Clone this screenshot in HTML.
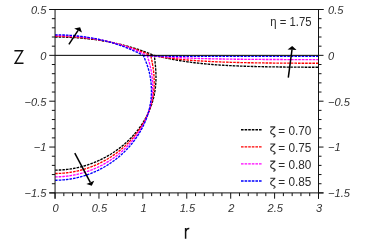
<!DOCTYPE html>
<html><head><meta charset="utf-8">
<style>
html,body{margin:0;padding:0;background:#ffffff;}
body{width:374px;height:251px;overflow:hidden;font-family:"Liberation Sans",sans-serif;}
svg{display:block;will-change:transform}
.txt{filter:grayscale(1)}
text{font-family:"Liberation Sans",sans-serif;fill:#222}
.tk text{font-size:11.1px;font-style:italic;fill:#333}
.lg{font-size:12.5px;fill:#2b2b2b}
.cv,.cvs path{fill:none;stroke-width:1.35;stroke-dasharray:2.6 1.0}
</style></head><body>
<svg width="374" height="251" viewBox="0 0 374 251">
<rect width="374" height="251" fill="#fff"/>
<g class="cvs">
<path d="M55.05,37.00 L56.73,37.00 L58.41,37.02 L60.10,37.04 L61.78,37.07 L63.46,37.11 L65.14,37.16 L66.83,37.22 L68.51,37.29 L70.19,37.37 L71.87,37.46 L73.56,37.56 L75.24,37.66 L76.92,37.78 L78.60,37.90 L80.29,38.04 L81.97,38.18 L83.65,38.34 L85.33,38.50 L87.02,38.68 L88.70,38.86 L90.38,39.06 L92.06,39.26 L93.75,39.48 L95.43,39.70 L97.11,39.94 L98.79,40.19 L100.48,40.45 L102.16,40.71 L103.84,40.99 L105.52,41.29 L107.21,41.59 L108.89,41.90 L110.57,42.23 L112.25,42.57 L113.93,42.92 L115.62,43.28 L117.30,43.66 L118.98,44.05 L120.66,44.45 L122.35,44.86 L124.03,45.29 L125.71,45.73 L127.39,46.18 L129.08,46.65 L130.76,47.13 L132.44,47.63 L134.12,48.14 L135.81,48.67 L137.49,49.21 L139.17,49.76 L140.85,50.33 L142.54,50.92 L144.22,51.53 L145.90,52.15 L147.58,52.78 L149.27,53.44 L150.95,54.11 L152.63,54.79 L154.31,55.50" stroke="#000000"/>
<path d="M55.10,170.12 L55.56,170.12 L56.02,170.12 L56.47,170.11 L56.93,170.10 L57.39,170.10 L57.85,170.08 L58.30,170.07 L58.76,170.06 L59.22,170.04 L59.68,170.02 L60.13,170.00 L60.59,169.97 L61.05,169.95 L61.50,169.92 L61.96,169.89 L62.42,169.86 L62.87,169.83 L63.33,169.79 L63.79,169.75 L64.24,169.72 L64.70,169.67 L65.15,169.63 L65.61,169.58 L66.07,169.54 L66.52,169.49 L66.98,169.44 L67.43,169.38 L67.89,169.33 L68.34,169.27 L68.79,169.21 L69.25,169.15 L69.70,169.08 L70.16,169.02 L70.61,168.95 L71.06,168.88 L71.51,168.81 L71.97,168.74 L72.42,168.66 L72.87,168.58 L73.32,168.50 L73.77,168.42 L74.22,168.34 L74.67,168.25 L75.12,168.17 L75.57,168.08 L76.02,167.99 L76.47,167.89 L76.92,167.80 L77.37,167.70 L77.82,167.60 L78.27,167.50 L78.71,167.40 L79.16,167.29 L79.61,167.18 L80.05,167.07 L80.50,166.96 L80.94,166.85 L81.39,166.73 L81.83,166.62 L82.28,166.50 L82.72,166.38 L83.16,166.26 L83.60,166.13 L84.05,166.00 L84.49,165.88 L84.93,165.74 L85.37,165.61 L85.81,165.48 L86.25,165.34 L86.69,165.20 L87.12,165.06 L87.56,164.92 L88.00,164.78 L88.44,164.63 L88.87,164.48 L89.31,164.33 L89.74,164.18 L90.18,164.03 L90.61,163.87 L91.04,163.72 L91.48,163.56 L91.91,163.40 L92.34,163.23 L92.77,163.07 L93.20,162.90 L93.63,162.73 L94.06,162.56 L94.49,162.39 L94.91,162.22 L95.34,162.04 L95.77,161.86 L96.19,161.68 L96.62,161.50 L97.04,161.32 L97.47,161.13 L97.89,160.95 L98.31,160.76 L98.73,160.57 L99.15,160.37 L99.57,160.18 L99.99,159.98 L100.41,159.78 L100.83,159.58 L101.24,159.38 L101.66,159.18 L102.08,158.97 L102.49,158.77 L102.90,158.56 L103.32,158.35 L103.73,158.13 L104.14,157.92 L104.55,157.70 L104.96,157.48 L105.37,157.26 L105.78,157.04 L106.18,156.82 L106.59,156.59 L107.00,156.36 L107.40,156.13 L107.81,155.90 L108.21,155.67 L108.61,155.44 L109.01,155.20 L109.41,154.96 L109.81,154.72 L110.21,154.48 L110.61,154.24 L111.00,153.99 L111.40,153.74 L111.79,153.49 L112.19,153.24 L112.58,152.99 L112.97,152.74 L113.36,152.48 L113.75,152.22 L114.14,151.96 L114.53,151.70 L114.92,151.44 L115.30,151.17 L115.69,150.90 L116.07,150.64 L116.45,150.37 L116.83,150.09 L117.21,149.82 L117.59,149.54 L117.97,149.27 L118.35,148.99 L118.73,148.71 L119.10,148.42 L119.47,148.14 L119.85,147.85 L120.22,147.56 L120.59,147.27 L120.96,146.98 L121.33,146.69 L121.69,146.39 L122.06,146.10 L122.42,145.80 L122.79,145.50 L123.15,145.20 L123.51,144.89 L123.87,144.59 L124.23,144.28 L124.58,143.97 L124.94,143.66 L125.29,143.35 L125.65,143.03 L126.00,142.72 L126.35,142.40 L126.70,142.08 L127.05,141.76 L127.39,141.43 L127.74,141.11 L128.08,140.78 L128.42,140.45 L128.76,140.12 L129.10,139.79 L129.44,139.46 L129.78,139.12 L130.11,138.79 L130.45,138.45 L130.78,138.11 L131.11,137.77 L131.44,137.42 L131.77,137.08 L132.09,136.73 L132.42,136.38 L132.74,136.03 L133.06,135.68 L133.38,135.33 L133.70,134.97 L134.01,134.61 L134.33,134.25 L134.64,133.89 L134.95,133.53 L135.26,133.17 L135.57,132.80 L135.88,132.43 L136.18,132.07 L136.48,131.69 L136.79,131.32 L137.08,130.95 L137.38,130.57 L137.68,130.20 L137.97,129.82 L138.26,129.44 L138.55,129.06 L138.84,128.67 L139.13,128.29 L139.41,127.90 L139.70,127.51 L139.98,127.12 L140.25,126.73 L140.53,126.34 L140.81,125.94 L141.08,125.55 L141.35,125.15 L141.62,124.75 L141.88,124.35 L142.15,123.95 L142.41,123.54 L142.67,123.14 L142.93,122.73 L143.19,122.32 L143.44,121.91 L143.69,121.50 L143.94,121.09 L144.19,120.67 L144.43,120.26 L144.68,119.84 L144.92,119.42 L145.16,119.00 L145.39,118.58 L145.63,118.16 L145.86,117.73 L146.09,117.31 L146.31,116.88 L146.54,116.45 L146.76,116.02 L146.98,115.59 L147.20,115.16 L147.41,114.72 L147.63,114.29 L147.84,113.85 L148.04,113.41 L148.25,112.98 L148.45,112.54 L148.65,112.09 L148.85,111.65 L149.04,111.21 L149.24,110.76 L149.43,110.32 L149.61,109.87 L149.80,109.42 L149.98,108.97 L150.16,108.52 L150.34,108.07 L150.51,107.62 L150.68,107.16 L150.85,106.71 L151.02,106.25 L151.18,105.79 L151.35,105.33 L151.50,104.88 L151.66,104.42 L151.81,103.95 L151.96,103.49 L152.11,103.03 L152.26,102.56 L152.40,102.10 L152.54,101.63 L152.67,101.17 L152.81,100.70 L152.94,100.23 L153.07,99.76 L153.19,99.29 L153.32,98.82 L153.44,98.35 L153.55,97.88 L153.67,97.41 L153.78,96.93 L153.89,96.46 L153.99,95.98 L154.10,95.51 L154.20,95.03 L154.29,94.56 L154.39,94.08 L154.48,93.60 L154.57,93.12 L154.66,92.64 L154.74,92.16 L154.82,91.69 L154.90,91.20 L154.97,90.72 L155.04,90.24 L155.11,89.76 L155.18,89.28 L155.24,88.80 L155.30,88.31 L155.36,87.83 L155.42,87.35 L155.47,86.87 L155.52,86.38 L155.57,85.90 L155.61,85.41 L155.66,84.93 L155.69,84.44 L155.73,83.96 L155.77,83.47 L155.80,82.99 L155.83,82.50 L155.85,82.02 L155.88,81.53 L155.90,81.05 L155.92,80.56 L155.93,80.08 L155.95,79.59 L155.96,79.11 L155.97,78.62 L155.97,78.13 L155.98,77.65 L155.98,77.16 L155.98,76.68 L155.97,76.19 L155.97,75.71 L155.96,75.22 L155.95,74.74 L155.94,74.25 L155.93,73.77 L155.91,73.28 L155.89,72.80 L155.87,72.31 L155.85,71.83 L155.83,71.34 L155.80,70.86 L155.77,70.37 L155.74,69.89 L155.71,69.40 L155.68,68.92 L155.65,68.44 L155.61,67.95 L155.57,67.47 L155.53,66.99 L155.49,66.50 L155.45,66.02 L155.41,65.54 L155.36,65.06 L155.32,64.57 L155.27,64.09 L155.22,63.61 L155.18,63.13 L155.13,62.64 L155.08,62.16 L155.02,61.68 L154.97,61.20 L154.92,60.71 L154.87,60.23 L154.81,59.75 L154.76,59.27 L154.70,58.78 L154.65,58.30 L154.59,57.82 L154.54,57.33 L154.48,56.85 L154.42,56.36 L154.37,55.88 L154.31,55.39" stroke="#000000"/>
<path d="M154.31,55.50 L155.69,55.75 L157.07,56.04 L158.45,56.34 L159.83,56.65 L161.21,56.95 L162.59,57.26 L163.97,57.56 L165.35,57.85 L166.73,58.15 L168.11,58.43 L169.49,58.71 L170.87,58.99 L172.25,59.26 L173.63,59.52 L175.01,59.78 L176.39,60.03 L177.77,60.27 L179.15,60.51 L180.53,60.74 L181.91,60.97 L183.29,61.18 L184.67,61.40 L186.05,61.60 L187.43,61.80 L188.81,62.00 L190.19,62.18 L191.57,62.37 L192.95,62.54 L194.33,62.72 L195.70,62.88 L197.08,63.04 L198.46,63.20 L199.84,63.35 L201.22,63.49 L202.60,63.63 L203.98,63.77 L205.36,63.90 L206.74,64.03 L208.12,64.15 L209.50,64.27 L210.88,64.39 L212.26,64.50 L213.64,64.61 L215.02,64.71 L216.40,64.81 L217.78,64.91 L219.16,65.00 L220.54,65.09 L221.92,65.18 L223.30,65.26 L224.68,65.34 L226.06,65.42 L227.44,65.49 L228.82,65.57 L230.20,65.64 L231.58,65.70 L232.96,65.77 L234.34,65.83 L235.72,65.89 L237.10,65.95 L238.48,66.01 L239.86,66.06 L241.24,66.11 L242.62,66.16 L244.00,66.21 L245.37,66.26 L246.75,66.30 L248.13,66.34 L249.51,66.38 L250.89,66.42 L252.27,66.46 L253.65,66.50 L255.03,66.53 L256.41,66.57 L257.79,66.60 L259.17,66.63 L260.55,66.66 L261.93,66.69 L263.31,66.72 L264.69,66.75 L266.07,66.77 L267.45,66.80 L268.83,66.82 L270.21,66.85 L271.59,66.87 L272.97,66.89 L274.35,66.91 L275.73,66.93 L277.11,66.95 L278.49,66.97 L279.87,66.98 L281.25,67.00 L282.63,67.02 L284.01,67.03 L285.39,67.05 L286.77,67.06 L288.15,67.08 L289.53,67.09 L290.91,67.10 L292.29,67.11 L293.67,67.13 L295.04,67.14 L296.42,67.15 L297.80,67.16 L299.18,67.17 L300.56,67.18 L301.94,67.19 L303.32,67.20 L304.70,67.20 L306.08,67.21 L307.46,67.22 L308.84,67.23 L310.22,67.23 L311.60,67.24 L312.98,67.25 L314.36,67.25 L315.74,67.26 L317.12,67.27 L318.50,67.27" stroke="#000000"/>
<path d="M55.05,36.30 L56.67,36.30 L58.29,36.32 L59.92,36.34 L61.54,36.38 L63.16,36.42 L64.78,36.47 L66.40,36.53 L68.02,36.60 L69.65,36.69 L71.27,36.78 L72.89,36.88 L74.51,36.99 L76.13,37.11 L77.75,37.24 L79.38,37.38 L81.00,37.53 L82.62,37.69 L84.24,37.86 L85.86,38.04 L87.48,38.23 L89.11,38.44 L90.73,38.65 L92.35,38.87 L93.97,39.11 L95.59,39.35 L97.21,39.61 L98.84,39.88 L100.46,40.16 L102.08,40.45 L103.70,40.75 L105.32,41.06 L106.95,41.39 L108.57,41.73 L110.19,42.08 L111.81,42.44 L113.43,42.82 L115.05,43.21 L116.68,43.61 L118.30,44.03 L119.92,44.46 L121.54,44.90 L123.16,45.36 L124.78,45.83 L126.41,46.31 L128.03,46.82 L129.65,47.33 L131.27,47.86 L132.89,48.41 L134.51,48.97 L136.14,49.55 L137.76,50.14 L139.38,50.75 L141.00,51.37 L142.62,52.02 L144.25,52.68 L145.87,53.36 L147.49,54.05 L149.11,54.77 L150.73,55.50" stroke="#ff0000"/>
<path d="M55.10,173.49 L55.57,173.49 L56.05,173.48 L56.52,173.48 L57.00,173.47 L57.47,173.46 L57.94,173.45 L58.42,173.43 L58.89,173.42 L59.36,173.40 L59.84,173.38 L60.31,173.35 L60.78,173.33 L61.26,173.30 L61.73,173.27 L62.20,173.24 L62.68,173.20 L63.15,173.17 L63.62,173.13 L64.09,173.08 L64.56,173.04 L65.04,173.00 L65.51,172.95 L65.98,172.90 L66.45,172.85 L66.92,172.79 L67.39,172.73 L67.86,172.68 L68.33,172.61 L68.80,172.55 L69.27,172.49 L69.74,172.42 L70.21,172.35 L70.68,172.28 L71.15,172.20 L71.61,172.13 L72.08,172.05 L72.55,171.97 L73.01,171.88 L73.48,171.80 L73.95,171.71 L74.41,171.62 L74.88,171.53 L75.34,171.44 L75.81,171.34 L76.27,171.24 L76.73,171.14 L77.20,171.04 L77.66,170.93 L78.12,170.83 L78.58,170.72 L79.04,170.61 L79.50,170.49 L79.96,170.38 L80.42,170.26 L80.88,170.14 L81.34,170.02 L81.80,169.90 L82.26,169.77 L82.71,169.64 L83.17,169.51 L83.63,169.38 L84.08,169.25 L84.53,169.11 L84.99,168.97 L85.44,168.83 L85.89,168.69 L86.35,168.54 L86.80,168.39 L87.25,168.25 L87.70,168.09 L88.15,167.94 L88.60,167.79 L89.04,167.63 L89.49,167.47 L89.94,167.31 L90.38,167.15 L90.83,166.98 L91.27,166.81 L91.72,166.64 L92.16,166.47 L92.60,166.30 L93.04,166.12 L93.48,165.94 L93.92,165.76 L94.36,165.58 L94.80,165.40 L95.24,165.21 L95.67,165.03 L96.11,164.84 L96.54,164.64 L96.98,164.45 L97.41,164.26 L97.84,164.06 L98.28,163.86 L98.71,163.66 L99.14,163.45 L99.56,163.25 L99.99,163.04 L100.42,162.83 L100.85,162.62 L101.27,162.41 L101.70,162.19 L102.12,161.97 L102.54,161.76 L102.96,161.53 L103.38,161.31 L103.80,161.09 L104.22,160.86 L104.64,160.63 L105.06,160.40 L105.47,160.17 L105.89,159.93 L106.30,159.70 L106.71,159.46 L107.12,159.22 L107.53,158.98 L107.94,158.73 L108.35,158.49 L108.76,158.24 L109.17,157.99 L109.57,157.74 L109.97,157.49 L110.38,157.23 L110.78,156.97 L111.18,156.72 L111.58,156.45 L111.98,156.19 L112.38,155.93 L112.77,155.66 L113.17,155.39 L113.56,155.12 L113.95,154.85 L114.34,154.58 L114.73,154.30 L115.12,154.03 L115.51,153.75 L115.90,153.47 L116.28,153.18 L116.67,152.90 L117.05,152.61 L117.43,152.33 L117.81,152.04 L118.19,151.74 L118.57,151.45 L118.95,151.16 L119.32,150.86 L119.70,150.56 L120.07,150.26 L120.44,149.96 L120.81,149.65 L121.18,149.35 L121.54,149.04 L121.91,148.73 L122.28,148.42 L122.64,148.11 L123.00,147.79 L123.36,147.48 L123.72,147.16 L124.08,146.84 L124.43,146.52 L124.79,146.20 L125.14,145.87 L125.49,145.55 L125.84,145.22 L126.19,144.89 L126.54,144.56 L126.88,144.22 L127.23,143.89 L127.57,143.55 L127.91,143.21 L128.25,142.87 L128.59,142.53 L128.92,142.19 L129.26,141.84 L129.59,141.50 L129.92,141.15 L130.25,140.80 L130.58,140.44 L130.91,140.09 L131.23,139.74 L131.55,139.38 L131.87,139.02 L132.19,138.66 L132.51,138.30 L132.83,137.94 L133.14,137.57 L133.45,137.21 L133.76,136.84 L134.07,136.47 L134.38,136.10 L134.69,135.72 L134.99,135.35 L135.29,134.97 L135.59,134.60 L135.89,134.22 L136.18,133.84 L136.48,133.45 L136.77,133.07 L137.06,132.68 L137.35,132.30 L137.64,131.91 L137.92,131.52 L138.20,131.13 L138.48,130.73 L138.76,130.34 L139.04,129.94 L139.31,129.55 L139.58,129.15 L139.85,128.75 L140.12,128.34 L140.39,127.94 L140.65,127.54 L140.91,127.13 L141.17,126.72 L141.43,126.31 L141.68,125.90 L141.94,125.49 L142.19,125.08 L142.44,124.66 L142.68,124.25 L142.93,123.83 L143.17,123.41 L143.41,122.99 L143.65,122.57 L143.88,122.15 L144.11,121.72 L144.34,121.30 L144.57,120.87 L144.80,120.44 L145.02,120.01 L145.24,119.58 L145.46,119.15 L145.67,118.72 L145.89,118.28 L146.10,117.85 L146.31,117.41 L146.51,116.97 L146.72,116.53 L146.92,116.09 L147.12,115.65 L147.31,115.21 L147.51,114.76 L147.70,114.32 L147.88,113.87 L148.07,113.43 L148.25,112.98 L148.43,112.53 L148.61,112.08 L148.79,111.63 L148.96,111.18 L149.13,110.72 L149.30,110.27 L149.46,109.81 L149.62,109.36 L149.78,108.90 L149.94,108.44 L150.09,107.98 L150.24,107.52 L150.39,107.06 L150.54,106.60 L150.68,106.14 L150.82,105.68 L150.95,105.21 L151.09,104.75 L151.22,104.28 L151.35,103.82 L151.47,103.35 L151.60,102.88 L151.72,102.41 L151.84,101.94 L151.95,101.47 L152.06,101.00 L152.17,100.53 L152.28,100.06 L152.38,99.59 L152.48,99.12 L152.58,98.64 L152.67,98.17 L152.76,97.70 L152.85,97.22 L152.94,96.75 L153.02,96.27 L153.10,95.79 L153.18,95.32 L153.25,94.84 L153.32,94.36 L153.39,93.89 L153.46,93.41 L153.52,92.93 L153.58,92.45 L153.64,91.98 L153.69,91.50 L153.74,91.02 L153.79,90.54 L153.84,90.06 L153.88,89.58 L153.92,89.10 L153.96,88.62 L153.99,88.14 L154.03,87.66 L154.06,87.18 L154.08,86.70 L154.11,86.22 L154.13,85.74 L154.14,85.26 L154.16,84.78 L154.17,84.30 L154.18,83.82 L154.19,83.34 L154.20,82.86 L154.20,82.38 L154.20,81.90 L154.20,81.42 L154.19,80.95 L154.18,80.47 L154.17,79.99 L154.16,79.51 L154.14,79.03 L154.13,78.55 L154.11,78.08 L154.08,77.60 L154.06,77.12 L154.03,76.64 L154.00,76.17 L153.97,75.69 L153.94,75.22 L153.90,74.74 L153.87,74.27 L153.83,73.79 L153.78,73.32 L153.74,72.84 L153.69,72.37 L153.64,71.90 L153.59,71.42 L153.53,70.95 L153.47,70.48 L153.41,70.01 L153.35,69.54 L153.29,69.07 L153.22,68.60 L153.16,68.13 L153.09,67.66 L153.02,67.19 L152.94,66.72 L152.87,66.25 L152.79,65.79 L152.71,65.32 L152.63,64.85 L152.55,64.39 L152.47,63.92 L152.39,63.46 L152.30,62.99 L152.22,62.53 L152.13,62.06 L152.04,61.60 L151.95,61.14 L151.86,60.68 L151.77,60.21 L151.68,59.75 L151.58,59.29 L151.49,58.83 L151.40,58.37 L151.30,57.91 L151.21,57.45 L151.11,56.99 L151.02,56.53 L150.92,56.06 L150.83,55.60 L150.73,55.14" stroke="#ff0000"/>
<path d="M150.73,55.50 L152.14,55.67 L153.55,55.87 L154.96,56.07 L156.37,56.27 L157.78,56.48 L159.19,56.68 L160.60,56.89 L162.01,57.09 L163.42,57.28 L164.83,57.48 L166.24,57.66 L167.65,57.85 L169.06,58.03 L170.47,58.20 L171.88,58.38 L173.29,58.54 L174.70,58.71 L176.11,58.87 L177.52,59.02 L178.93,59.17 L180.34,59.31 L181.75,59.46 L183.16,59.59 L184.57,59.72 L185.98,59.85 L187.39,59.98 L188.80,60.10 L190.21,60.22 L191.62,60.33 L193.03,60.44 L194.44,60.54 L195.85,60.65 L197.26,60.75 L198.67,60.84 L200.08,60.94 L201.49,61.02 L202.90,61.11 L204.30,61.19 L205.71,61.28 L207.12,61.35 L208.53,61.43 L209.94,61.50 L211.35,61.57 L212.76,61.64 L214.17,61.70 L215.58,61.77 L216.99,61.83 L218.40,61.89 L219.81,61.94 L221.22,62.00 L222.63,62.05 L224.04,62.10 L225.45,62.15 L226.86,62.19 L228.27,62.24 L229.68,62.28 L231.09,62.32 L232.50,62.37 L233.91,62.40 L235.32,62.44 L236.73,62.48 L238.14,62.51 L239.55,62.54 L240.96,62.58 L242.37,62.61 L243.78,62.64 L245.19,62.67 L246.60,62.69 L248.01,62.72 L249.42,62.74 L250.83,62.77 L252.24,62.79 L253.65,62.81 L255.06,62.84 L256.47,62.86 L257.88,62.88 L259.29,62.90 L260.70,62.91 L262.11,62.93 L263.52,62.95 L264.93,62.97 L266.34,62.98 L267.75,63.00 L269.16,63.01 L270.57,63.03 L271.98,63.04 L273.39,63.05 L274.80,63.06 L276.21,63.08 L277.62,63.09 L279.03,63.10 L280.43,63.11 L281.84,63.12 L283.25,63.13 L284.66,63.14 L286.07,63.15 L287.48,63.15 L288.89,63.16 L290.30,63.17 L291.71,63.18 L293.12,63.19 L294.53,63.19 L295.94,63.20 L297.35,63.21 L298.76,63.21 L300.17,63.22 L301.58,63.22 L302.99,63.23 L304.40,63.23 L305.81,63.24 L307.22,63.24 L308.63,63.25 L310.04,63.25 L311.45,63.26 L312.86,63.26 L314.27,63.26 L315.68,63.27 L317.09,63.27 L318.50,63.27" stroke="#ff0000"/>
<path d="M55.05,35.50 L56.61,35.50 L58.17,35.52 L59.73,35.54 L61.29,35.58 L62.85,35.62 L64.41,35.68 L65.97,35.74 L67.53,35.82 L69.10,35.90 L70.66,36.00 L72.22,36.10 L73.78,36.22 L75.34,36.34 L76.90,36.48 L78.46,36.62 L80.02,36.78 L81.58,36.95 L83.14,37.13 L84.70,37.31 L86.26,37.51 L87.82,37.72 L89.38,37.95 L90.94,38.18 L92.50,38.42 L94.06,38.68 L95.63,38.95 L97.19,39.22 L98.75,39.52 L100.31,39.82 L101.87,40.13 L103.43,40.46 L104.99,40.80 L106.55,41.15 L108.11,41.52 L109.67,41.90 L111.23,42.29 L112.79,42.70 L114.35,43.12 L115.91,43.55 L117.47,44.00 L119.03,44.46 L120.60,44.94 L122.16,45.43 L123.72,45.93 L125.28,46.45 L126.84,46.99 L128.40,47.54 L129.96,48.11 L131.52,48.70 L133.08,49.30 L134.64,49.92 L136.20,50.55 L137.76,51.20 L139.32,51.87 L140.88,52.56 L142.44,53.27 L144.00,53.99 L145.56,54.74 L147.13,55.50" stroke="#ff00ff"/>
<path d="M55.10,176.85 L55.59,176.85 L56.08,176.85 L56.57,176.84 L57.06,176.83 L57.55,176.82 L58.04,176.81 L58.53,176.79 L59.02,176.78 L59.51,176.76 L60.00,176.73 L60.49,176.71 L60.98,176.68 L61.47,176.65 L61.96,176.62 L62.44,176.58 L62.93,176.54 L63.42,176.50 L63.91,176.46 L64.40,176.42 L64.89,176.37 L65.37,176.32 L65.86,176.27 L66.35,176.21 L66.83,176.15 L67.32,176.09 L67.81,176.03 L68.29,175.97 L68.78,175.90 L69.26,175.83 L69.75,175.76 L70.23,175.69 L70.72,175.61 L71.20,175.53 L71.68,175.45 L72.16,175.37 L72.65,175.28 L73.13,175.20 L73.61,175.11 L74.09,175.01 L74.57,174.92 L75.05,174.82 L75.53,174.72 L76.01,174.62 L76.49,174.51 L76.97,174.41 L77.44,174.30 L77.92,174.19 L78.40,174.07 L78.87,173.96 L79.35,173.84 L79.82,173.72 L80.30,173.59 L80.77,173.47 L81.24,173.34 L81.71,173.21 L82.19,173.08 L82.66,172.94 L83.13,172.81 L83.60,172.67 L84.06,172.52 L84.53,172.38 L85.00,172.24 L85.47,172.09 L85.93,171.94 L86.40,171.78 L86.86,171.63 L87.32,171.47 L87.79,171.31 L88.25,171.15 L88.71,170.99 L89.17,170.82 L89.63,170.65 L90.09,170.48 L90.55,170.31 L91.00,170.13 L91.46,169.96 L91.91,169.78 L92.37,169.59 L92.82,169.41 L93.28,169.23 L93.73,169.04 L94.18,168.85 L94.63,168.65 L95.08,168.46 L95.52,168.26 L95.97,168.06 L96.42,167.86 L96.86,167.66 L97.31,167.46 L97.75,167.25 L98.19,167.04 L98.63,166.83 L99.07,166.61 L99.51,166.40 L99.95,166.18 L100.38,165.96 L100.82,165.74 L101.25,165.51 L101.69,165.29 L102.12,165.06 L102.55,164.83 L102.98,164.60 L103.41,164.36 L103.84,164.13 L104.27,163.89 L104.69,163.65 L105.12,163.41 L105.54,163.16 L105.96,162.92 L106.38,162.67 L106.80,162.42 L107.22,162.17 L107.64,161.91 L108.05,161.66 L108.47,161.40 L108.88,161.14 L109.30,160.88 L109.71,160.61 L110.12,160.35 L110.52,160.08 L110.93,159.81 L111.34,159.54 L111.74,159.26 L112.15,158.99 L112.55,158.71 L112.95,158.43 L113.35,158.15 L113.75,157.87 L114.14,157.58 L114.54,157.29 L114.93,157.01 L115.33,156.71 L115.72,156.42 L116.11,156.13 L116.49,155.83 L116.88,155.53 L117.27,155.23 L117.65,154.93 L118.03,154.63 L118.42,154.32 L118.79,154.02 L119.17,153.71 L119.55,153.40 L119.92,153.08 L120.30,152.77 L120.67,152.45 L121.04,152.14 L121.41,151.82 L121.78,151.49 L122.14,151.17 L122.51,150.85 L122.87,150.52 L123.23,150.19 L123.59,149.86 L123.95,149.53 L124.31,149.20 L124.66,148.86 L125.01,148.52 L125.37,148.18 L125.72,147.84 L126.06,147.50 L126.41,147.16 L126.76,146.81 L127.10,146.46 L127.44,146.12 L127.78,145.77 L128.12,145.41 L128.45,145.06 L128.79,144.70 L129.12,144.35 L129.45,143.99 L129.78,143.63 L130.11,143.26 L130.43,142.90 L130.76,142.54 L131.08,142.17 L131.40,141.80 L131.72,141.43 L132.03,141.06 L132.35,140.69 L132.66,140.31 L132.97,139.93 L133.28,139.56 L133.58,139.18 L133.89,138.80 L134.19,138.41 L134.49,138.03 L134.79,137.64 L135.09,137.26 L135.38,136.87 L135.67,136.48 L135.96,136.09 L136.25,135.69 L136.54,135.30 L136.82,134.90 L137.11,134.50 L137.39,134.10 L137.66,133.70 L137.94,133.30 L138.21,132.90 L138.48,132.49 L138.75,132.09 L139.02,131.68 L139.29,131.27 L139.55,130.86 L139.81,130.45 L140.07,130.04 L140.32,129.62 L140.58,129.21 L140.83,128.79 L141.08,128.37 L141.33,127.95 L141.57,127.53 L141.81,127.11 L142.05,126.68 L142.29,126.26 L142.53,125.83 L142.76,125.41 L142.99,124.98 L143.22,124.55 L143.44,124.12 L143.67,123.68 L143.89,123.25 L144.11,122.82 L144.32,122.38 L144.53,121.94 L144.75,121.50 L144.95,121.07 L145.16,120.62 L145.36,120.18 L145.56,119.74 L145.76,119.30 L145.96,118.85 L146.15,118.41 L146.34,117.96 L146.53,117.51 L146.71,117.06 L146.90,116.61 L147.08,116.16 L147.25,115.71 L147.43,115.26 L147.60,114.80 L147.77,114.35 L147.93,113.89 L148.10,113.44 L148.26,112.98 L148.42,112.52 L148.57,112.06 L148.72,111.60 L148.87,111.14 L149.02,110.68 L149.16,110.22 L149.31,109.76 L149.44,109.29 L149.58,108.83 L149.71,108.36 L149.84,107.90 L149.97,107.43 L150.09,106.96 L150.22,106.50 L150.34,106.03 L150.45,105.56 L150.56,105.09 L150.67,104.62 L150.78,104.15 L150.88,103.68 L150.99,103.20 L151.08,102.73 L151.18,102.26 L151.27,101.79 L151.36,101.31 L151.45,100.84 L151.53,100.36 L151.61,99.89 L151.69,99.42 L151.77,98.94 L151.84,98.46 L151.91,97.99 L151.97,97.51 L152.04,97.04 L152.10,96.56 L152.15,96.08 L152.21,95.61 L152.26,95.13 L152.31,94.65 L152.35,94.17 L152.40,93.70 L152.44,93.22 L152.47,92.74 L152.51,92.26 L152.54,91.79 L152.57,91.31 L152.59,90.83 L152.61,90.35 L152.63,89.88 L152.65,89.40 L152.66,88.92 L152.68,88.44 L152.68,87.97 L152.69,87.49 L152.69,87.01 L152.69,86.54 L152.69,86.06 L152.68,85.58 L152.68,85.11 L152.66,84.63 L152.65,84.16 L152.63,83.68 L152.62,83.21 L152.59,82.74 L152.57,82.26 L152.54,81.79 L152.51,81.32 L152.48,80.84 L152.45,80.37 L152.41,79.90 L152.37,79.43 L152.33,78.96 L152.29,78.49 L152.24,78.02 L152.19,77.55 L152.14,77.08 L152.09,76.61 L152.03,76.14 L151.98,75.68 L151.92,75.21 L151.86,74.75 L151.79,74.28 L151.72,73.82 L151.65,73.35 L151.58,72.89 L151.51,72.43 L151.43,71.97 L151.34,71.50 L151.26,71.04 L151.17,70.58 L151.08,70.13 L150.99,69.67 L150.90,69.21 L150.80,68.75 L150.70,68.30 L150.60,67.84 L150.50,67.39 L150.39,66.94 L150.29,66.48 L150.18,66.03 L150.06,65.58 L149.95,65.13 L149.84,64.68 L149.72,64.23 L149.60,63.79 L149.48,63.34 L149.36,62.89 L149.23,62.45 L149.11,62.01 L148.98,61.56 L148.86,61.12 L148.73,60.68 L148.60,60.24 L148.47,59.80 L148.34,59.36 L148.20,58.92 L148.07,58.48 L147.94,58.04 L147.80,57.61 L147.67,57.17 L147.53,56.73 L147.40,56.30 L147.26,55.87 L147.13,55.43" stroke="#ff00ff"/>
<path d="M147.13,55.50 L148.57,55.59 L150.01,55.70 L151.45,55.81 L152.89,55.92 L154.33,56.03 L155.77,56.14 L157.21,56.25 L158.65,56.36 L160.09,56.46 L161.53,56.57 L162.97,56.67 L164.41,56.77 L165.85,56.86 L167.29,56.96 L168.73,57.05 L170.17,57.14 L171.61,57.23 L173.05,57.31 L174.49,57.39 L175.93,57.47 L177.37,57.55 L178.81,57.63 L180.25,57.70 L181.69,57.77 L183.13,57.84 L184.57,57.90 L186.01,57.97 L187.45,58.03 L188.89,58.09 L190.33,58.15 L191.77,58.20 L193.21,58.26 L194.65,58.31 L196.09,58.36 L197.53,58.41 L198.97,58.46 L200.41,58.50 L201.85,58.55 L203.29,58.59 L204.73,58.63 L206.17,58.67 L207.61,58.71 L209.05,58.74 L210.49,58.78 L211.93,58.81 L213.37,58.84 L214.81,58.88 L216.25,58.91 L217.69,58.94 L219.13,58.96 L220.57,58.99 L222.01,59.02 L223.45,59.04 L224.89,59.07 L226.33,59.09 L227.77,59.11 L229.21,59.13 L230.65,59.15 L232.09,59.17 L233.53,59.19 L234.97,59.21 L236.41,59.23 L237.85,59.25 L239.29,59.26 L240.73,59.28 L242.17,59.29 L243.61,59.31 L245.05,59.32 L246.49,59.34 L247.93,59.35 L249.37,59.36 L250.81,59.37 L252.25,59.38 L253.69,59.40 L255.13,59.41 L256.57,59.42 L258.01,59.43 L259.45,59.44 L260.90,59.44 L262.34,59.45 L263.78,59.46 L265.22,59.47 L266.66,59.48 L268.10,59.48 L269.54,59.49 L270.98,59.50 L272.42,59.50 L273.86,59.51 L275.30,59.52 L276.74,59.52 L278.18,59.53 L279.62,59.53 L281.06,59.54 L282.50,59.54 L283.94,59.55 L285.38,59.55 L286.82,59.56 L288.26,59.56 L289.70,59.56 L291.14,59.57 L292.58,59.57 L294.02,59.57 L295.46,59.58 L296.90,59.58 L298.34,59.58 L299.78,59.59 L301.22,59.59 L302.66,59.59 L304.10,59.59 L305.54,59.60 L306.98,59.60 L308.42,59.60 L309.86,59.60 L311.30,59.61 L312.74,59.61 L314.18,59.61 L315.62,59.61 L317.06,59.61 L318.50,59.61" stroke="#ff00ff"/>
<path d="M55.05,34.80 L56.55,34.81 L58.04,34.82 L59.54,34.85 L61.03,34.88 L62.53,34.93 L64.02,34.98 L65.52,35.05 L67.01,35.13 L68.51,35.22 L70.00,35.31 L71.50,35.42 L72.99,35.54 L74.49,35.67 L75.98,35.81 L77.48,35.96 L78.97,36.12 L80.47,36.30 L81.96,36.48 L83.46,36.68 L84.95,36.88 L86.45,37.10 L87.94,37.33 L89.44,37.57 L90.93,37.83 L92.43,38.09 L93.92,38.37 L95.42,38.66 L96.91,38.96 L98.41,39.27 L99.90,39.60 L101.40,39.94 L102.89,40.29 L104.39,40.65 L105.88,41.03 L107.38,41.42 L108.87,41.83 L110.37,42.25 L111.86,42.68 L113.36,43.13 L114.85,43.59 L116.35,44.07 L117.84,44.57 L119.34,45.07 L120.83,45.60 L122.33,46.14 L123.82,46.69 L125.32,47.26 L126.81,47.85 L128.31,48.46 L129.80,49.08 L131.30,49.72 L132.79,50.38 L134.29,51.05 L135.78,51.75 L137.28,52.46 L138.78,53.19 L140.27,53.94 L141.77,54.71 L143.26,55.50" stroke="#0000ff"/>
<path d="M55.10,180.22 L55.61,180.22 L56.11,180.22 L56.62,180.21 L57.12,180.20 L57.63,180.19 L58.14,180.17 L58.64,180.16 L59.15,180.14 L59.65,180.11 L60.16,180.09 L60.67,180.06 L61.17,180.03 L61.68,180.00 L62.18,179.96 L62.69,179.92 L63.19,179.88 L63.69,179.84 L64.20,179.79 L64.70,179.75 L65.21,179.69 L65.71,179.64 L66.21,179.58 L66.72,179.52 L67.22,179.46 L67.72,179.40 L68.22,179.33 L68.72,179.26 L69.22,179.19 L69.72,179.12 L70.22,179.04 L70.72,178.96 L71.22,178.88 L71.72,178.79 L72.22,178.70 L72.72,178.61 L73.21,178.52 L73.71,178.43 L74.21,178.33 L74.70,178.23 L75.20,178.12 L75.69,178.02 L76.19,177.91 L76.68,177.80 L77.17,177.69 L77.66,177.57 L78.15,177.45 L78.65,177.33 L79.14,177.21 L79.62,177.08 L80.11,176.96 L80.60,176.82 L81.09,176.69 L81.58,176.56 L82.06,176.42 L82.55,176.28 L83.03,176.13 L83.51,175.99 L84.00,175.84 L84.48,175.69 L84.96,175.54 L85.44,175.38 L85.92,175.23 L86.40,175.07 L86.88,174.90 L87.35,174.74 L87.83,174.57 L88.30,174.40 L88.78,174.23 L89.25,174.05 L89.72,173.88 L90.19,173.70 L90.66,173.52 L91.13,173.33 L91.60,173.15 L92.07,172.96 L92.54,172.77 L93.00,172.57 L93.47,172.38 L93.93,172.18 L94.39,171.98 L94.85,171.78 L95.31,171.57 L95.77,171.36 L96.23,171.16 L96.69,170.94 L97.14,170.73 L97.60,170.51 L98.05,170.30 L98.50,170.07 L98.95,169.85 L99.40,169.63 L99.85,169.40 L100.30,169.17 L100.74,168.94 L101.19,168.70 L101.63,168.47 L102.07,168.23 L102.52,167.99 L102.96,167.75 L103.39,167.50 L103.83,167.25 L104.27,167.01 L104.70,166.75 L105.14,166.50 L105.57,166.25 L106.00,165.99 L106.43,165.73 L106.86,165.47 L107.28,165.20 L107.71,164.94 L108.13,164.67 L108.56,164.40 L108.98,164.13 L109.40,163.85 L109.81,163.58 L110.23,163.30 L110.65,163.02 L111.06,162.74 L111.47,162.45 L111.88,162.17 L112.29,161.88 L112.70,161.59 L113.11,161.29 L113.51,161.00 L113.92,160.70 L114.32,160.41 L114.72,160.11 L115.12,159.80 L115.52,159.50 L115.91,159.19 L116.31,158.89 L116.70,158.58 L117.09,158.27 L117.48,157.95 L117.87,157.64 L118.25,157.32 L118.64,157.00 L119.02,156.68 L119.40,156.36 L119.78,156.03 L120.16,155.71 L120.53,155.38 L120.91,155.05 L121.28,154.72 L121.65,154.38 L122.02,154.05 L122.39,153.71 L122.75,153.37 L123.12,153.03 L123.48,152.69 L123.84,152.34 L124.20,152.00 L124.55,151.65 L124.91,151.30 L125.26,150.95 L125.61,150.60 L125.96,150.24 L126.31,149.89 L126.66,149.53 L127.00,149.17 L127.34,148.81 L127.68,148.44 L128.02,148.08 L128.35,147.71 L128.69,147.34 L129.02,146.97 L129.35,146.60 L129.68,146.23 L130.01,145.86 L130.33,145.48 L130.65,145.10 L130.97,144.72 L131.29,144.34 L131.61,143.96 L131.92,143.58 L132.23,143.19 L132.54,142.80 L132.85,142.42 L133.16,142.03 L133.46,141.63 L133.76,141.24 L134.06,140.85 L134.36,140.45 L134.66,140.05 L134.95,139.65 L135.24,139.25 L135.53,138.85 L135.81,138.45 L136.10,138.04 L136.38,137.64 L136.66,137.23 L136.94,136.82 L137.21,136.41 L137.49,136.00 L137.76,135.59 L138.03,135.17 L138.29,134.76 L138.56,134.34 L138.82,133.92 L139.08,133.50 L139.33,133.08 L139.59,132.66 L139.84,132.23 L140.09,131.81 L140.34,131.38 L140.58,130.96 L140.83,130.53 L141.07,130.10 L141.30,129.67 L141.54,129.23 L141.77,128.80 L142.00,128.37 L142.23,127.93 L142.45,127.49 L142.68,127.06 L142.90,126.62 L143.12,126.18 L143.33,125.73 L143.54,125.29 L143.75,124.85 L143.96,124.40 L144.16,123.96 L144.37,123.51 L144.57,123.06 L144.76,122.61 L144.96,122.16 L145.15,121.71 L145.34,121.26 L145.52,120.81 L145.71,120.36 L145.89,119.90 L146.06,119.45 L146.24,118.99 L146.41,118.53 L146.58,118.07 L146.75,117.61 L146.91,117.15 L147.07,116.69 L147.23,116.23 L147.39,115.77 L147.54,115.31 L147.69,114.84 L147.84,114.38 L147.98,113.91 L148.12,113.45 L148.26,112.98 L148.40,112.51 L148.53,112.05 L148.66,111.58 L148.79,111.11 L148.91,110.64 L149.03,110.17 L149.15,109.70 L149.27,109.23 L149.38,108.76 L149.49,108.28 L149.60,107.81 L149.70,107.34 L149.80,106.86 L149.90,106.39 L149.99,105.91 L150.08,105.44 L150.17,104.96 L150.26,104.49 L150.34,104.01 L150.42,103.54 L150.50,103.06 L150.57,102.58 L150.64,102.11 L150.71,101.63 L150.77,101.15 L150.84,100.67 L150.89,100.20 L150.95,99.72 L151.00,99.24 L151.05,98.76 L151.10,98.28 L151.14,97.81 L151.18,97.33 L151.22,96.85 L151.26,96.37 L151.29,95.89 L151.32,95.42 L151.34,94.94 L151.36,94.46 L151.38,93.98 L151.40,93.50 L151.41,93.03 L151.42,92.55 L151.43,92.07 L151.44,91.60 L151.44,91.12 L151.44,90.64 L151.43,90.17 L151.43,89.69 L151.42,89.22 L151.41,88.74 L151.39,88.27 L151.37,87.79 L151.35,87.32 L151.33,86.85 L151.30,86.37 L151.27,85.90 L151.24,85.43 L151.21,84.96 L151.17,84.49 L151.13,84.02 L151.09,83.55 L151.04,83.08 L150.99,82.61 L150.94,82.14 L150.89,81.67 L150.83,81.21 L150.78,80.74 L150.72,80.28 L150.65,79.81 L150.59,79.35 L150.52,78.88 L150.45,78.42 L150.38,77.96 L150.30,77.50 L150.23,77.04 L150.15,76.58 L150.07,76.12 L149.98,75.66 L149.90,75.21 L149.81,74.75 L149.72,74.30 L149.62,73.84 L149.53,73.39 L149.43,72.94 L149.32,72.49 L149.21,72.03 L149.10,71.59 L148.99,71.14 L148.87,70.69 L148.76,70.24 L148.63,69.80 L148.51,69.35 L148.38,68.91 L148.25,68.47 L148.12,68.03 L147.98,67.59 L147.84,67.15 L147.70,66.71 L147.56,66.28 L147.41,65.84 L147.27,65.41 L147.12,64.98 L146.97,64.55 L146.81,64.12 L146.66,63.69 L146.50,63.26 L146.34,62.84 L146.18,62.41 L146.02,61.99 L145.85,61.56 L145.69,61.14 L145.52,60.72 L145.35,60.30 L145.18,59.89 L145.01,59.47 L144.84,59.06 L144.66,58.64 L144.49,58.23 L144.32,57.82 L144.14,57.40 L143.97,56.99 L143.79,56.59 L143.61,56.18 L143.44,55.77 L143.26,55.36" stroke="#0000ff"/>
<path d="M143.26,55.50 L144.73,55.56 L146.21,55.63 L147.68,55.69 L149.15,55.75 L150.62,55.81 L152.10,55.86 L153.57,55.91 L155.04,55.95 L156.51,55.99 L157.99,56.03 L159.46,56.06 L160.93,56.09 L162.40,56.12 L163.88,56.15 L165.35,56.17 L166.82,56.19 L168.29,56.21 L169.77,56.22 L171.24,56.24 L172.71,56.25 L174.18,56.26 L175.66,56.27 L177.13,56.28 L178.60,56.29 L180.08,56.29 L181.55,56.30 L183.02,56.31 L184.49,56.31 L185.97,56.32 L187.44,56.32 L188.91,56.32 L190.38,56.33 L191.86,56.33 L193.33,56.33 L194.80,56.33 L196.27,56.34 L197.75,56.34 L199.22,56.34 L200.69,56.34 L202.16,56.34 L203.64,56.34 L205.11,56.34 L206.58,56.34 L208.05,56.35 L209.53,56.35 L211.00,56.35 L212.47,56.35 L213.95,56.35 L215.42,56.35 L216.89,56.35 L218.36,56.35 L219.84,56.35 L221.31,56.35 L222.78,56.35 L224.25,56.35 L225.73,56.35 L227.20,56.35 L228.67,56.35 L230.14,56.35 L231.62,56.35 L233.09,56.35 L234.56,56.35 L236.03,56.35 L237.51,56.35 L238.98,56.35 L240.45,56.35 L241.92,56.35 L243.40,56.35 L244.87,56.35 L246.34,56.35 L247.82,56.35 L249.29,56.35 L250.76,56.35 L252.23,56.35 L253.71,56.35 L255.18,56.35 L256.65,56.35 L258.12,56.35 L259.60,56.35 L261.07,56.35 L262.54,56.35 L264.01,56.35 L265.49,56.35 L266.96,56.35 L268.43,56.35 L269.90,56.35 L271.38,56.35 L272.85,56.35 L274.32,56.35 L275.79,56.35 L277.27,56.35 L278.74,56.35 L280.21,56.35 L281.68,56.35 L283.16,56.35 L284.63,56.35 L286.10,56.35 L287.58,56.35 L289.05,56.35 L290.52,56.35 L291.99,56.35 L293.47,56.35 L294.94,56.35 L296.41,56.35 L297.88,56.35 L299.36,56.35 L300.83,56.35 L302.30,56.35 L303.77,56.35 L305.25,56.35 L306.72,56.35 L308.19,56.35 L309.66,56.35 L311.14,56.35 L312.61,56.35 L314.08,56.35 L315.55,56.35 L317.03,56.35 L318.50,56.35" stroke="#0000ff"/>
</g>
<!-- zero line -->
<line x1="55.05" y1="55.35" x2="318.5" y2="55.35" stroke="#000" stroke-width="1"/>
<!-- axes -->
<line x1="49.25" y1="9.5" x2="323.5" y2="9.5" stroke="#111" stroke-width="1"/>
<line x1="318.5" y1="9.5" x2="318.5" y2="198.70000000000002" stroke="#111" stroke-width="1"/>
<g stroke="#111" stroke-width="1">
<line x1="318.50" y1="9.50" x2="323.50" y2="9.50"/>
<line x1="318.50" y1="18.67" x2="321.50" y2="18.67"/>
<line x1="318.50" y1="27.84" x2="321.50" y2="27.84"/>
<line x1="318.50" y1="37.01" x2="321.50" y2="37.01"/>
<line x1="318.50" y1="46.18" x2="321.50" y2="46.18"/>
<line x1="318.50" y1="55.35" x2="323.50" y2="55.35"/>
<line x1="318.50" y1="64.52" x2="321.50" y2="64.52"/>
<line x1="318.50" y1="73.69" x2="321.50" y2="73.69"/>
<line x1="318.50" y1="82.86" x2="321.50" y2="82.86"/>
<line x1="318.50" y1="92.03" x2="321.50" y2="92.03"/>
<line x1="318.50" y1="101.20" x2="323.50" y2="101.20"/>
<line x1="318.50" y1="110.37" x2="321.50" y2="110.37"/>
<line x1="318.50" y1="119.54" x2="321.50" y2="119.54"/>
<line x1="318.50" y1="128.71" x2="321.50" y2="128.71"/>
<line x1="318.50" y1="137.88" x2="321.50" y2="137.88"/>
<line x1="318.50" y1="147.05" x2="323.50" y2="147.05"/>
<line x1="318.50" y1="156.22" x2="321.50" y2="156.22"/>
<line x1="318.50" y1="165.39" x2="321.50" y2="165.39"/>
<line x1="318.50" y1="174.56" x2="321.50" y2="174.56"/>
<line x1="318.50" y1="183.73" x2="321.50" y2="183.73"/>
<line x1="318.50" y1="192.90" x2="323.50" y2="192.90"/>
</g>
<g stroke="#111" stroke-width="1">
<line x1="55.05" y1="9.5" x2="55.05" y2="198.70000000000002"/>
<line x1="49.25" y1="192.9" x2="323.5" y2="192.9"/>
<line x1="49.25" y1="9.50" x2="55.05" y2="9.50"/>
<line x1="51.85" y1="18.67" x2="55.05" y2="18.67"/>
<line x1="51.85" y1="27.84" x2="55.05" y2="27.84"/>
<line x1="51.85" y1="37.01" x2="55.05" y2="37.01"/>
<line x1="51.85" y1="46.18" x2="55.05" y2="46.18"/>
<line x1="49.25" y1="55.35" x2="55.05" y2="55.35"/>
<line x1="51.85" y1="64.52" x2="55.05" y2="64.52"/>
<line x1="51.85" y1="73.69" x2="55.05" y2="73.69"/>
<line x1="51.85" y1="82.86" x2="55.05" y2="82.86"/>
<line x1="51.85" y1="92.03" x2="55.05" y2="92.03"/>
<line x1="49.25" y1="101.20" x2="55.05" y2="101.20"/>
<line x1="51.85" y1="110.37" x2="55.05" y2="110.37"/>
<line x1="51.85" y1="119.54" x2="55.05" y2="119.54"/>
<line x1="51.85" y1="128.71" x2="55.05" y2="128.71"/>
<line x1="51.85" y1="137.88" x2="55.05" y2="137.88"/>
<line x1="49.25" y1="147.05" x2="55.05" y2="147.05"/>
<line x1="51.85" y1="156.22" x2="55.05" y2="156.22"/>
<line x1="51.85" y1="165.39" x2="55.05" y2="165.39"/>
<line x1="51.85" y1="174.56" x2="55.05" y2="174.56"/>
<line x1="51.85" y1="183.73" x2="55.05" y2="183.73"/>
<line x1="49.25" y1="192.90" x2="55.05" y2="192.90"/>
<line x1="55.05" y1="192.90" x2="55.05" y2="198.70"/>
<line x1="63.83" y1="192.90" x2="63.83" y2="196.10"/>
<line x1="72.61" y1="192.90" x2="72.61" y2="196.10"/>
<line x1="81.40" y1="192.90" x2="81.40" y2="196.10"/>
<line x1="90.18" y1="192.90" x2="90.18" y2="196.10"/>
<line x1="98.96" y1="192.90" x2="98.96" y2="198.70"/>
<line x1="107.74" y1="192.90" x2="107.74" y2="196.10"/>
<line x1="116.52" y1="192.90" x2="116.52" y2="196.10"/>
<line x1="125.31" y1="192.90" x2="125.31" y2="196.10"/>
<line x1="134.09" y1="192.90" x2="134.09" y2="196.10"/>
<line x1="142.87" y1="192.90" x2="142.87" y2="198.70"/>
<line x1="151.65" y1="192.90" x2="151.65" y2="196.10"/>
<line x1="160.43" y1="192.90" x2="160.43" y2="196.10"/>
<line x1="169.22" y1="192.90" x2="169.22" y2="196.10"/>
<line x1="178.00" y1="192.90" x2="178.00" y2="196.10"/>
<line x1="186.78" y1="192.90" x2="186.78" y2="198.70"/>
<line x1="195.56" y1="192.90" x2="195.56" y2="196.10"/>
<line x1="204.34" y1="192.90" x2="204.34" y2="196.10"/>
<line x1="213.13" y1="192.90" x2="213.13" y2="196.10"/>
<line x1="221.91" y1="192.90" x2="221.91" y2="196.10"/>
<line x1="230.69" y1="192.90" x2="230.69" y2="198.70"/>
<line x1="239.47" y1="192.90" x2="239.47" y2="196.10"/>
<line x1="248.25" y1="192.90" x2="248.25" y2="196.10"/>
<line x1="257.04" y1="192.90" x2="257.04" y2="196.10"/>
<line x1="265.82" y1="192.90" x2="265.82" y2="196.10"/>
<line x1="274.60" y1="192.90" x2="274.60" y2="198.70"/>
<line x1="283.38" y1="192.90" x2="283.38" y2="196.10"/>
<line x1="292.16" y1="192.90" x2="292.16" y2="196.10"/>
<line x1="300.95" y1="192.90" x2="300.95" y2="196.10"/>
<line x1="309.73" y1="192.90" x2="309.73" y2="196.10"/>
<line x1="318.51" y1="192.90" x2="318.51" y2="198.70"/>
</g>
<g class="txt"><g class="tk">
<text x="46.5" y="13.90" text-anchor="end">0.5</text>
<text x="328.1" y="13.90" text-anchor="start">0.5</text>
<text x="46.5" y="59.75" text-anchor="end">0</text>
<text x="328.1" y="59.75" text-anchor="start">0</text>
<text x="46.5" y="105.60" text-anchor="end">−0.5</text>
<text x="328.1" y="105.60" text-anchor="start">−0.5</text>
<text x="46.5" y="151.45" text-anchor="end">−1</text>
<text x="328.1" y="151.45" text-anchor="start">−1</text>
<text x="46.5" y="197.30" text-anchor="end">−1.5</text>
<text x="328.1" y="197.30" text-anchor="start">−1.5</text>
<text x="55.65" y="212.1" text-anchor="middle">0</text>
<text x="99.56" y="212.1" text-anchor="middle">0.5</text>
<text x="143.47" y="212.1" text-anchor="middle">1</text>
<text x="187.38" y="212.1" text-anchor="middle">1.5</text>
<text x="231.29" y="212.1" text-anchor="middle">2</text>
<text x="275.20" y="212.1" text-anchor="middle">2.5</text>
<text x="319.11" y="212.1" text-anchor="middle">3</text>
</g>
<text x="278.3" y="134.50" class="lg" textLength="33.1" lengthAdjust="spacingAndGlyphs">= 0.70</text>
<path transform="translate(0,0.00)" d="M270.3,126.9 H275.3 M275.0,127.1 L271.4,130.4 C270.2,131.7 270.5,133.3 272.3,133.9 C274.0,134.4 275.3,134.8 275.1,135.9 C274.9,136.7 274.2,137.0 273.3,136.9" fill="none" stroke="#2b2b2b" stroke-width="1.15"/>
<text x="278.3" y="151.60" class="lg" textLength="33.1" lengthAdjust="spacingAndGlyphs">= 0.75</text>
<path transform="translate(0,17.10)" d="M270.3,126.9 H275.3 M275.0,127.1 L271.4,130.4 C270.2,131.7 270.5,133.3 272.3,133.9 C274.0,134.4 275.3,134.8 275.1,135.9 C274.9,136.7 274.2,137.0 273.3,136.9" fill="none" stroke="#2b2b2b" stroke-width="1.15"/>
<text x="278.3" y="168.70" class="lg" textLength="33.1" lengthAdjust="spacingAndGlyphs">= 0.80</text>
<path transform="translate(0,34.20)" d="M270.3,126.9 H275.3 M275.0,127.1 L271.4,130.4 C270.2,131.7 270.5,133.3 272.3,133.9 C274.0,134.4 275.3,134.8 275.1,135.9 C274.9,136.7 274.2,137.0 273.3,136.9" fill="none" stroke="#2b2b2b" stroke-width="1.15"/>
<text x="278.3" y="185.80" class="lg" textLength="33.1" lengthAdjust="spacingAndGlyphs">= 0.85</text>
<path transform="translate(0,51.30)" d="M270.3,126.9 H275.3 M275.0,127.1 L271.4,130.4 C270.2,131.7 270.5,133.3 272.3,133.9 C274.0,134.4 275.3,134.8 275.1,135.9 C274.9,136.7 274.2,137.0 273.3,136.9" fill="none" stroke="#2b2b2b" stroke-width="1.15"/>
<text x="270.3" y="25.9" class="lg" textLength="41.2" lengthAdjust="spacingAndGlyphs">η = 1.75</text>
</g>
<line x1="241" y1="129.70" x2="262" y2="129.70" stroke="#000000" class="cv"/>
<line x1="241" y1="146.80" x2="262" y2="146.80" stroke="#ff0000" class="cv"/>
<line x1="241" y1="163.90" x2="262" y2="163.90" stroke="#ff00ff" class="cv"/>
<line x1="241" y1="181.00" x2="262" y2="181.00" stroke="#0000ff" class="cv"/>
<!-- Z and r -->
<path d="M14.4,50.8 H22.6 L15.1,63.3 H23.5" fill="none" stroke="#111" stroke-width="1.4" stroke-linejoin="miter"/>
<path d="M185.6,228 V238.7 M185.6,231.6 Q186.6,228.3 189.3,228.6" fill="none" stroke="#111" stroke-width="1.5"/>
<!-- arrows -->
<g stroke="#000" stroke-width="1.5" fill="#000">
<line x1="68.9" y1="44.3" x2="78.1" y2="30.4"/>
<polygon points="80.1,27.2 74.2,28.4 82,32.4" stroke="none"/>
<line x1="74.8" y1="153.2" x2="90.3" y2="182.3"/>
<polygon points="91.8,185.8 86.4,183.9 94.2,180.7" stroke="none"/>
<line x1="288.3" y1="77.6" x2="292" y2="49.7"/>
<polygon points="292.2,46 287.6,49.4 296.6,50" stroke="none"/>
</g>
</svg>
</body></html>
